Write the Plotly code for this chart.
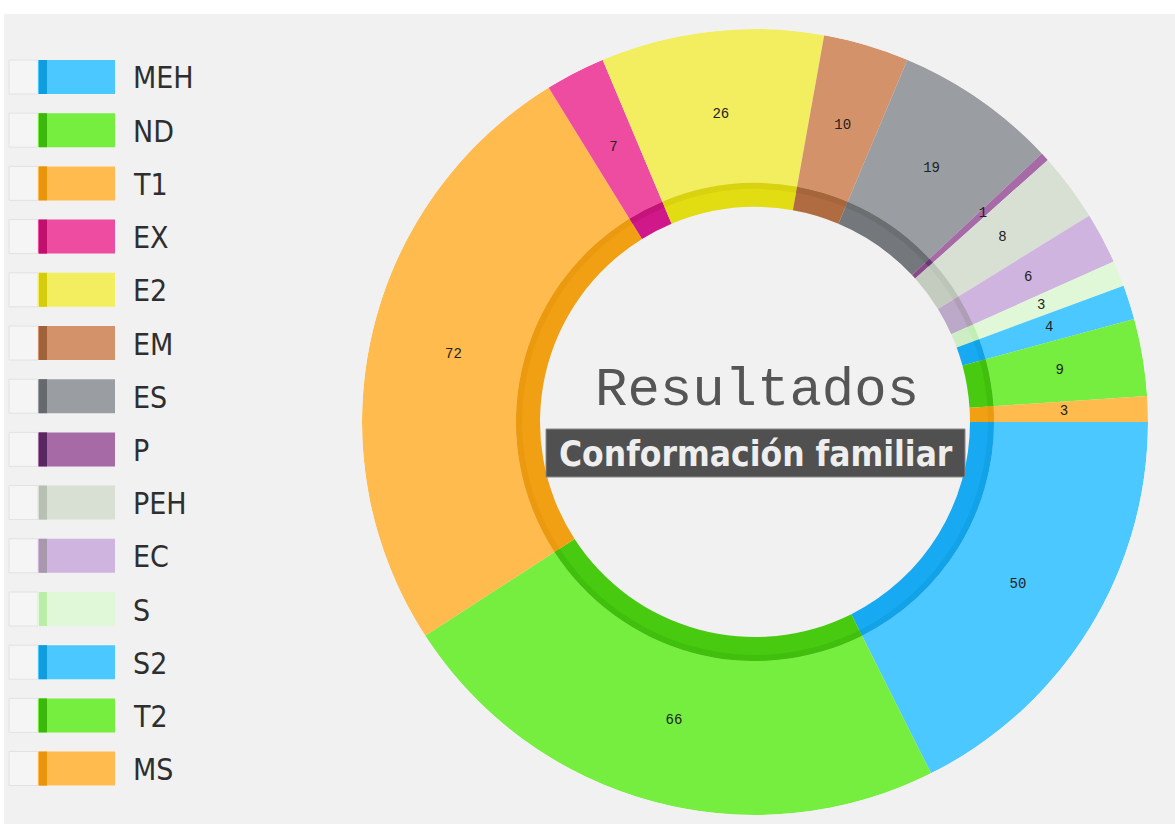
import plotly.graph_objects as go

# ---- data ----
categories = ["MEH", "ND", "T1", "EX", "E2", "EM", "ES", "P", "PEH", "EC", "S", "S2", "T2", "MS"]
values = [50, 66, 72, 7, 26, 10, 19, 1, 8, 6, 3, 4, 9, 3]
colors = ["#4ac8ff", "#76ee40", "#ffbb4d", "#ee4ca0", "#f2ee60", "#d4926a", "#9a9ea2",
          "#a66aa6", "#d8e0d4", "#d0b4e0", "#e0f8d8", "#4ac8ff", "#76ee40", "#ffbb4d"]
band_colors = ["#17aaf2", "#48ca10", "#f0a012", "#d0188a", "#e2dc12", "#b06c40", "#74787c",
               "#8a4a8a", "#c4ccc0", "#bca8c8", "#cdeec4", "#17aaf2", "#48ca10", "#f0a012"]
edge_colors = ["#0f9de0", "#3cb80c", "#e8950c", "#c0106e", "#d4cc0c", "#a0623a", "#66696d",
               "#5a2860", "#b8c0b4", "#a898ac", "#b8eea8", "#0f9de0", "#3cb80c", "#e8950c"]
title_text = "Resultados"
subtitle_text = "Conformación familiar"

# ---- layout constants (pixels) ----
W, H = 1175, 824
CX, CY = 755, 422
R_OUT, R_BAND, R_EDGE, R_IN = 393, 239, 233, 215
R_LABEL = 309
MONO = "Courier New, Nimbus Mono PS, FreeMono, Liberation Mono, monospace"
COND = "DejaVu Sans Condensed, DejaVu Sans"

# angular geometry derived from the values
total = sum(values)
widths = [v / total * 360 for v in values]
mids = []
acc = 0
for v in values:
    mids.append((acc + v / 2) / total * 360)
    acc += v
n = len(values)

fig = go.Figure()
# main ring
fig.add_trace(go.Barpolar(theta=mids, width=widths, base=[R_BAND] * n, r=[R_OUT - R_BAND] * n,
                          marker=dict(color=colors, line=dict(width=0)),
                          hoverinfo="skip", showlegend=False))
# inner shaded band
fig.add_trace(go.Barpolar(theta=mids, width=widths, base=[R_IN] * n, r=[R_BAND - R_IN] * n,
                          marker=dict(color=band_colors, line=dict(width=0)),
                          hoverinfo="skip", showlegend=False))
fig.add_trace(go.Barpolar(theta=mids, width=widths, base=[R_EDGE] * n, r=[R_BAND - R_EDGE] * n,
                          marker=dict(color=edge_colors, line=dict(width=0), opacity=0.6),
                          hoverinfo="skip", showlegend=False))
# value labels
fig.add_trace(go.Scatterpolar(r=[R_LABEL] * n, theta=mids, mode="text",
                              text=[str(v) for v in values],
                              textfont=dict(family=MONO, size=14, color="#222222"),
                              hoverinfo="skip", showlegend=False))

dom = dict(x=[(CX - R_OUT) / W, (CX + R_OUT) / W], y=[1 - (CY + R_OUT) / H, 1 - (CY - R_OUT) / H])
fig.update_layout(polar=dict(domain=dom, bgcolor="rgba(0,0,0,0)", bargap=0,
                             radialaxis=dict(range=[0, R_OUT], visible=False, showgrid=False),
                             angularaxis=dict(direction="clockwise", rotation=0, visible=False,
                                              showgrid=False)))

shapes = [dict(type="rect", xref="paper", yref="paper", x0=4 / W, x1=1, y0=0, y1=1 - 14 / H,
               fillcolor="#f1f1f1", line=dict(width=0), layer="below")]
annotations = []

# legend
STEP = 53.2
Y0 = 77
for i, (cat, c, e) in enumerate(zip(categories, colors, edge_colors)):
    yc = Y0 + i * STEP
    top = 1 - (yc - 17) / H
    bot = 1 - (yc + 17) / H
    shapes.append(dict(type="rect", xref="paper", yref="paper", x0=9 / W, x1=38 / W,
                       y0=bot, y1=top, fillcolor="#f5f5f5",
                       line=dict(color="#e2e2e2", width=1), layer="above"))
    shapes.append(dict(type="rect", xref="paper", yref="paper", x0=38 / W, x1=115 / W,
                       y0=bot, y1=top, fillcolor=c, line=dict(width=0), layer="above"))
    shapes.append(dict(type="rect", xref="paper", yref="paper", x0=39 / W, x1=47 / W,
                       y0=bot, y1=top, fillcolor=e, line=dict(width=0), layer="above"))
    annotations.append(dict(text=cat, xref="paper", yref="paper", x=131 / W, y=1 - (yc + 1) / H,
                            xanchor="left", yanchor="middle", showarrow=False,
                            font=dict(family=COND, size=30, color="#2e2e2e")))

# center title
annotations.append(dict(text=title_text, xref="paper", yref="paper", x=757 / W, y=1 - 390 / H,
                        xanchor="center", yanchor="middle", showarrow=False,
                        font=dict(family=MONO, size=54, color="#555555")))
shapes.append(dict(type="rect", xref="paper", yref="paper", x0=546 / W, x1=965 / W,
                   y0=1 - 477 / H, y1=1 - 429 / H, fillcolor="#505050",
                   line=dict(color="#8a8a8a", width=1), layer="above"))
annotations.append(dict(text=subtitle_text, xref="paper", yref="paper", x=756 / W, y=1 - 454 / H,
                        xanchor="center", yanchor="middle", showarrow=False,
                        font=dict(family=COND, size=35, color="#eeeeee", weight="bold")))

fig.update_layout(width=W, height=H, margin=dict(l=0, r=0, t=0, b=0),
                  paper_bgcolor="#ffffff", plot_bgcolor="#ffffff",
                  shapes=shapes, annotations=annotations)

fig.write_html("out.html", config={"displayModeBar": False},
               post_script="document.body.style.margin='0px';")
